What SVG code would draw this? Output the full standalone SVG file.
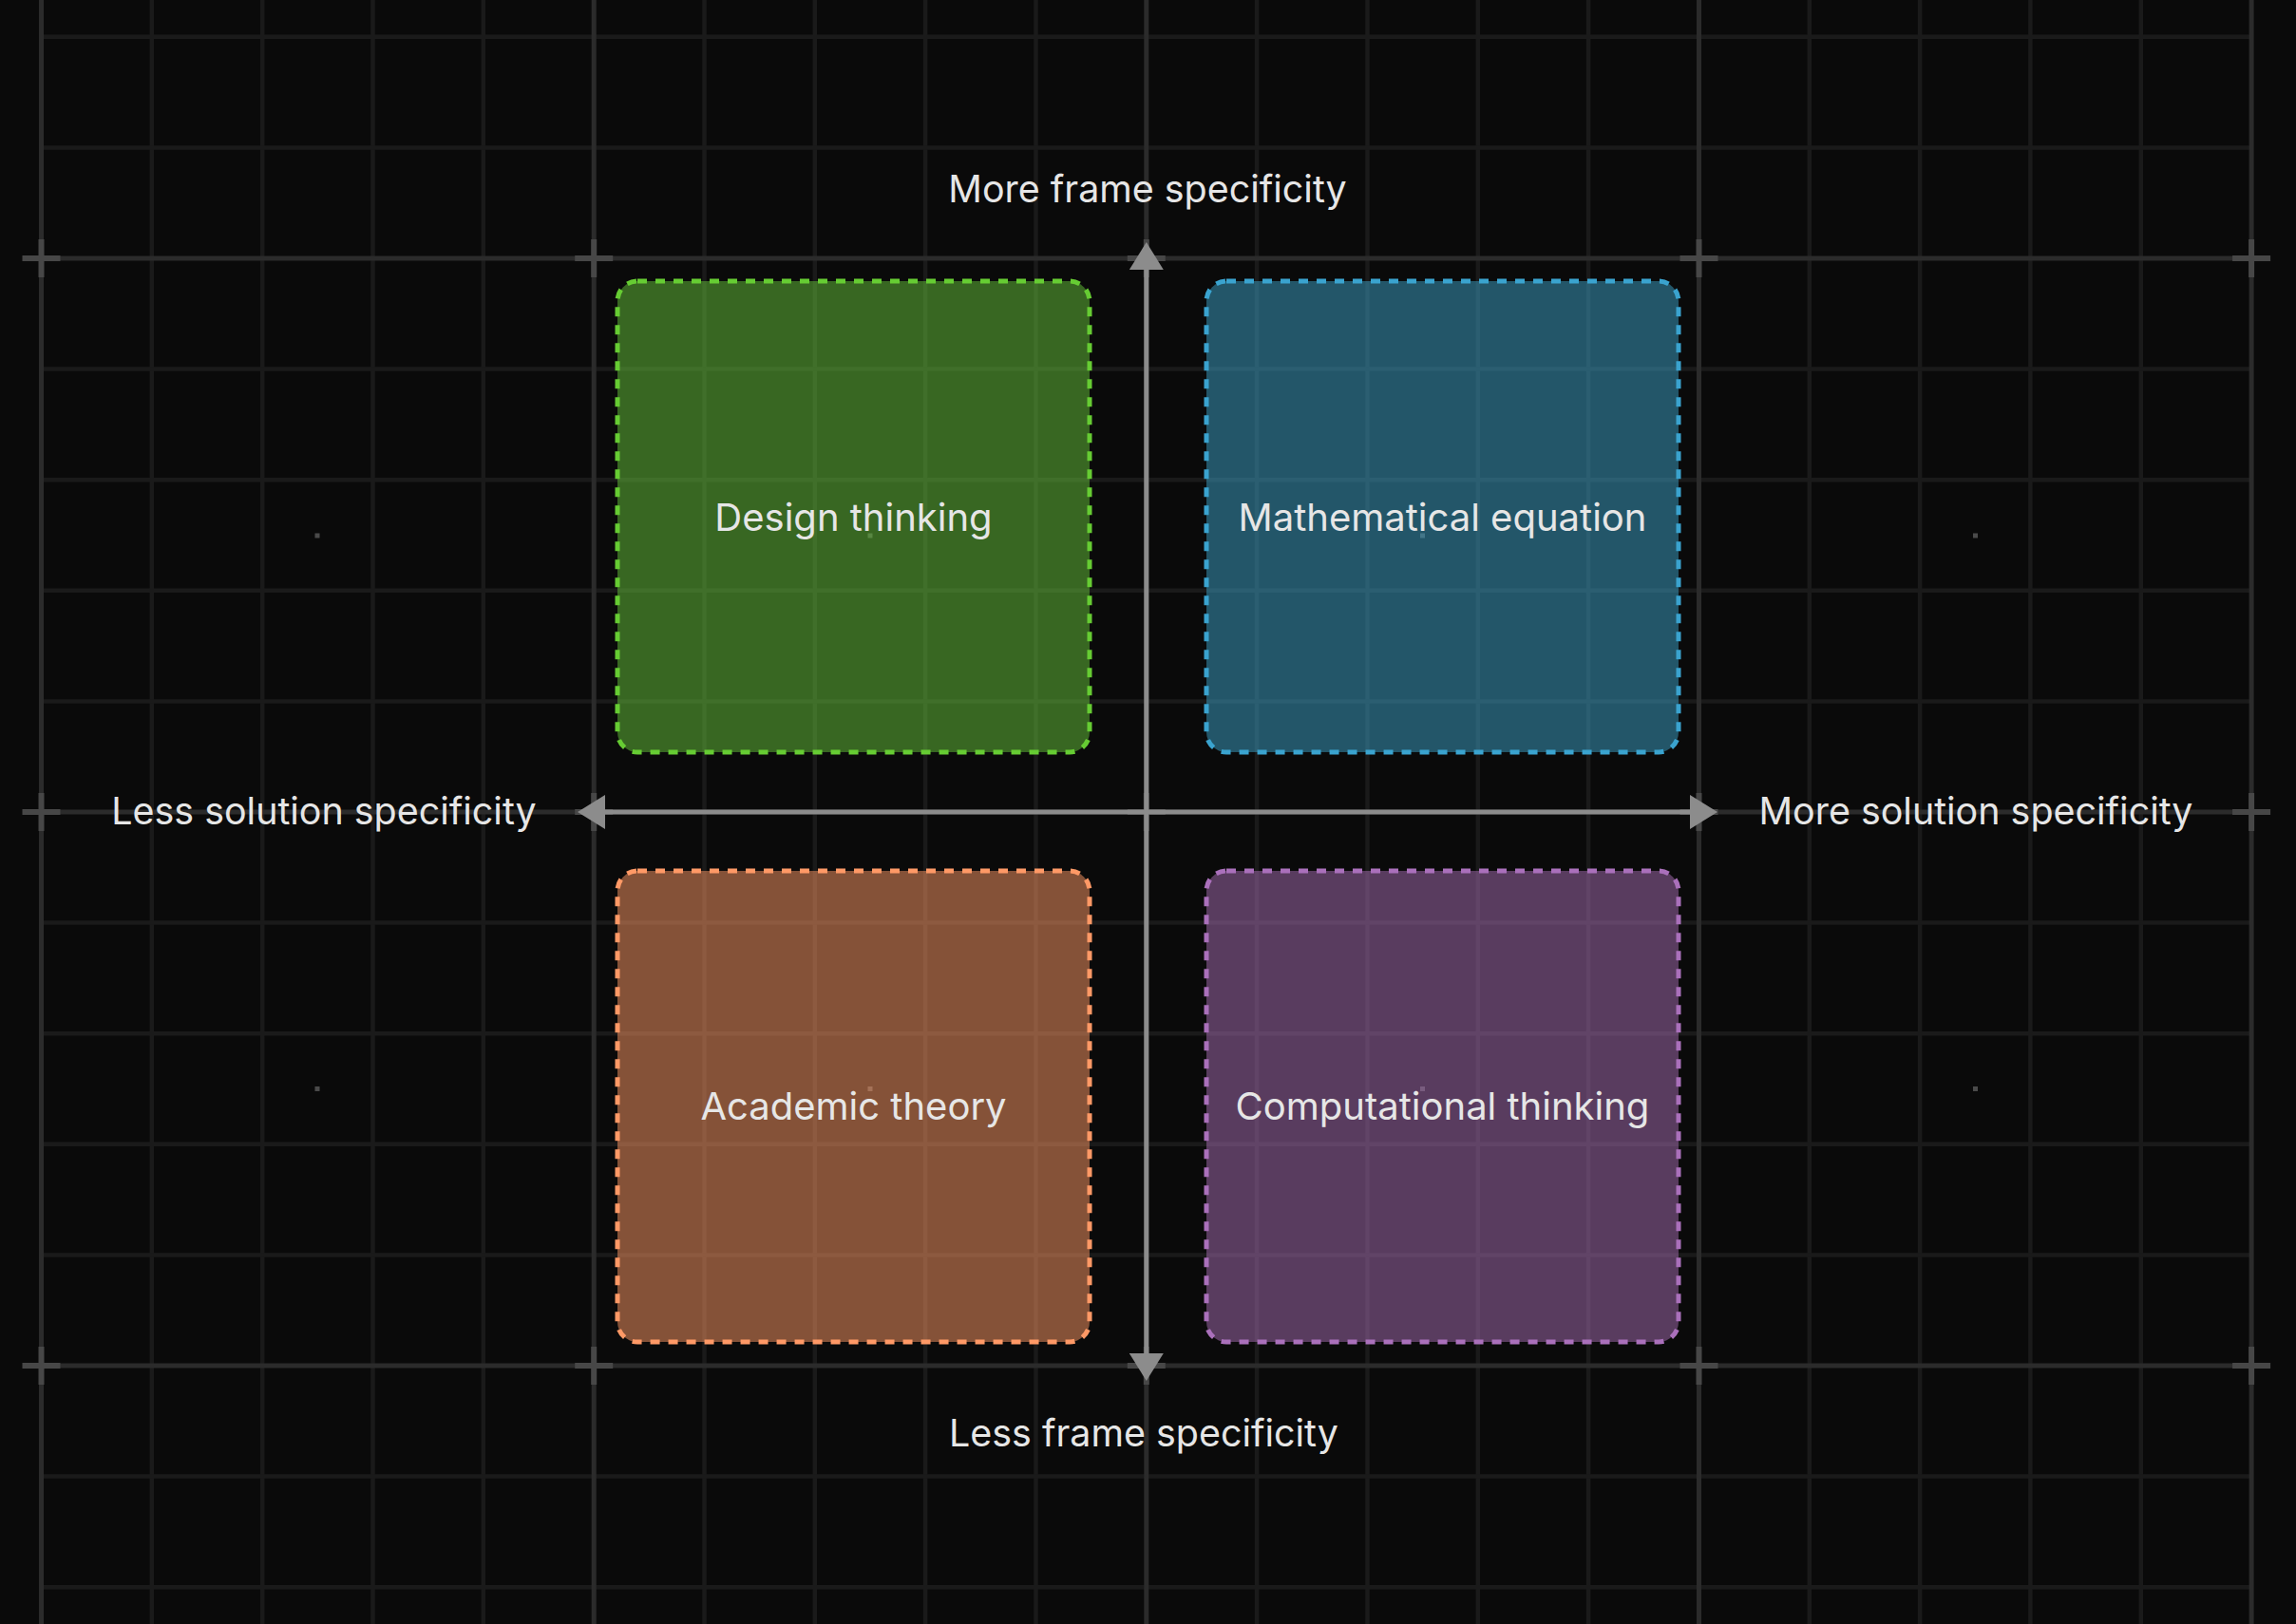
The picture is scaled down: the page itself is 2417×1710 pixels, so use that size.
<svg xmlns="http://www.w3.org/2000/svg" width="2417" height="1710" viewBox="0 0 2417 1710">
<style>
.minor{stroke:#1a1a1a;stroke-width:4.5;fill:none}
.major{stroke:#2b2b2b;stroke-width:5;fill:none}
.cross{stroke:#474747;stroke-width:6;fill:none}
.dot{fill:#4a4a4a}
.box{stroke-width:5;stroke-dasharray:10 9;fill-opacity:0.5}
.lbl{font-family:Inter,"Noto Sans","Liberation Sans",sans-serif;font-size:40px;fill:#e6e6e6;text-anchor:middle}
.ax{font-size:39.4px}
.axis{stroke:#8c8c8c;stroke-width:5;fill:none}
</style>
<defs>
<marker id="arr" viewBox="0 0 29 36" refX="0" refY="18" markerWidth="29" markerHeight="36" markerUnits="userSpaceOnUse" orient="auto-start-reverse">
<path d="M0,0 L29,18 L0,36 Z" fill="#8c8c8c"/>
</marker>
</defs>
<rect x="0" y="0" width="2417" height="1710" fill="#0a0a0a"/>
<g id="grid">
<g class="minor">
<path d="M159.8,0V1710M276.2,0V1710M392.5,0V1710M508.8,0V1710M741.5,0V1710M857.8,0V1710M974.1,0V1710M1090.5,0V1710M1323.1,0V1710M1439.5,0V1710M1555.8,0V1710M1672.1,0V1710M1904.8,0V1710M2021.1,0V1710M2137.4,0V1710M2253.8,0V1710"/>
<path d="M43.5,38.8H2370.1M43.5,155.4H2370.1M43.5,388.6H2370.1M43.5,505.2H2370.1M43.5,621.8H2370.1M43.5,738.4H2370.1M43.5,971.6H2370.1M43.5,1088.2H2370.1M43.5,1204.8H2370.1M43.5,1321.4H2370.1M43.5,1554.6H2370.1M43.5,1671.2H2370.1"/>
</g>
<g class="major">
<path d="M43.5,0V1710M625.2,0V1710M1206.8,0V1710M1788.5,0V1710M2370.1,0V1710"/>
<path d="M43.5,272H2370.1M43.5,855H2370.1M43.5,1438H2370.1"/>
</g>
<g class="cross">
<path d="M23.5,272h40M43.5,252v40M605.2,272h40M625.2,252v40M1186.8,272h40M1206.8,252v40M1768.5,272h40M1788.5,252v40M2350.1,272h40M2370.1,252v40"/>
<path d="M23.5,855h40M43.5,835v40M605.2,855h40M625.2,835v40M1186.8,855h40M1206.8,835v40M1768.5,855h40M1788.5,835v40M2350.1,855h40M2370.1,835v40"/>
<path d="M23.5,1438h40M43.5,1418v40M605.2,1438h40M625.2,1418v40M1186.8,1438h40M1206.8,1418v40M1768.5,1438h40M1788.5,1418v40M2350.1,1438h40M2370.1,1418v40"/>
</g>
<g class="dot">
<rect x="331.5" y="561.5" width="5" height="5"/>
<rect x="913.5" y="561.5" width="5" height="5"/>
<rect x="1495" y="561.5" width="5" height="5"/>
<rect x="2077" y="561.5" width="5" height="5"/>
<rect x="331.5" y="1144" width="5" height="5"/>
<rect x="913.5" y="1144" width="5" height="5"/>
<rect x="1495" y="1144" width="5" height="5"/>
<rect x="2077" y="1144" width="5" height="5"/>
</g>
</g>
<g id="connectors">
<line class="axis" x1="1206.8" y1="284" x2="1206.8" y2="1425" marker-start="url(#arr)" marker-end="url(#arr)"/>
<line class="axis" x1="637" y1="855" x2="1779" y2="855" marker-start="url(#arr)" marker-end="url(#arr)"/>
</g>
<g id="design-thinking">
<rect class="box" x="650" y="296" width="497" height="496" rx="21" fill="#65c43a" stroke="#66cc33"/>
<text class="lbl" x="898.5" y="559">Design thinking</text>
</g>
<g id="mathematical-equation">
<rect class="box" x="1270" y="296" width="497" height="496" rx="21" fill="#3ca2c8" stroke="#3aa3cf"/>
<text class="lbl" x="1518.5" y="559">Mathematical equation</text>
</g>
<g id="academic-theory">
<rect class="box" x="650" y="917" width="497" height="496" rx="21" fill="#ff9966" stroke="#ff9966"/>
<text class="lbl" x="898.5" y="1179">Academic theory</text>
</g>
<g id="computational-thinking">
<rect class="box" x="1270" y="917" width="497" height="496" rx="21" fill="#a86db3" stroke="#aa70bb"/>
<text class="lbl" x="1518.5" y="1179">Computational thinking</text>
</g>
<g id="axis-labels">
<text class="lbl ax" x="1208" y="213">More frame specificity</text>
<text class="lbl ax" x="1204" y="1523">Less frame specificity</text>
<text class="lbl ax" x="341" y="868">Less solution specificity</text>
<text class="lbl ax" x="2080" y="868">More solution specificity</text>
</g>
</svg>
